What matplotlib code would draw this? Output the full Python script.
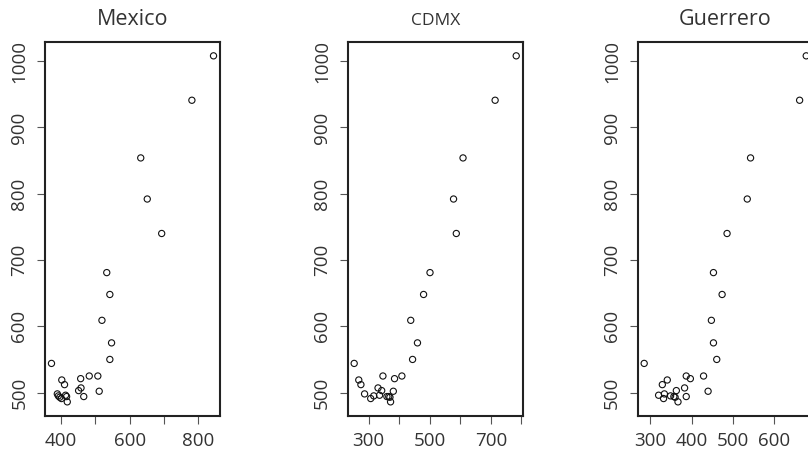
import numpy as np
import matplotlib.pyplot as plt

plt.rcParams['font.family'] = ['Open Sans', 'DejaVu Sans']

# shared y values (same for all three panels)
y_vals = [1008, 941, 854, 792, 740, 681, 648, 609, 575, 550, 544, 525, 525, 521,
          519, 512, 507, 503, 502, 498, 496, 495, 494, 494, 493, 491, 486]

x_mexico = [844, 781, 632, 651, 693, 533, 542, 519, 547, 542, 372, 482, 507, 457,
            402, 410, 458, 451, 511, 389, 413, 392, 416, 466, 396, 401, 418]
x_cdmx = [783, 714, 609, 578, 587, 501, 480, 438, 460, 444, 253, 347, 409, 385,
          268, 275, 331, 343, 381, 287, 336, 317, 360, 366, 370, 307, 372]
x_guerrero = [678, 662, 543, 535, 486, 453, 474, 448, 453, 461, 285, 429, 387, 397,
              341, 329, 383, 363, 440, 334, 320, 349, 357, 387, 360, 332, 367]

titles = ['Mexico', 'CDMX', 'Guerrero']
title_sizes = [15.5, 12.5, 15.5]
x_ticks = [[400, 500, 600, 700, 800],
           [300, 400, 500, 600, 700, 800],
           [300, 400, 500, 600]]
x_ticklabels = [['400', '', '600', '', '800'],
                ['300', '', '500', '', '700', ''],
                ['300', '400', '500', '600']]
y_ticks = [500, 600, 700, 800, 900, 1000]

lefts = [45 / 808, 347.7 / 808, 637.7 / 808]
W, H = 808, 453

fig = plt.figure(figsize=(W / 100, H / 100), dpi=100)

def r_lim(v):
    lo, hi = min(v), max(v)
    pad = 0.04 * (hi - lo)
    return lo - pad, hi + pad

txt = '#333333'
for i, xs in enumerate([x_mexico, x_cdmx, x_guerrero]):
    ax = fig.add_axes([lefts[i], (H - 415.7) / H, 175 / W, (415.7 - 42) / H])
    ax.scatter(xs, y_vals, s=20, facecolors='none', edgecolors='#111111', linewidths=0.8)
    ax.set_xlim(*r_lim(xs))
    ax.set_ylim(*r_lim(y_vals))
    ax.set_xticks(x_ticks[i])
    ax.set_xticklabels(x_ticklabels[i])
    ax.set_yticks(y_ticks)
    ax.set_yticklabels([str(t) for t in y_ticks], rotation=90, va='center')
    ax.tick_params(length=6, width=0.8, color='#555555', labelsize=13.5,
                   labelcolor=txt, pad=6)
    for s in ax.spines.values():
        s.set_linewidth(1.5)
        s.set_color('#222222')
    ax.set_title(titles[i], fontsize=title_sizes[i], color=txt, pad=12)

fig.savefig('out.png', dpi=100)
